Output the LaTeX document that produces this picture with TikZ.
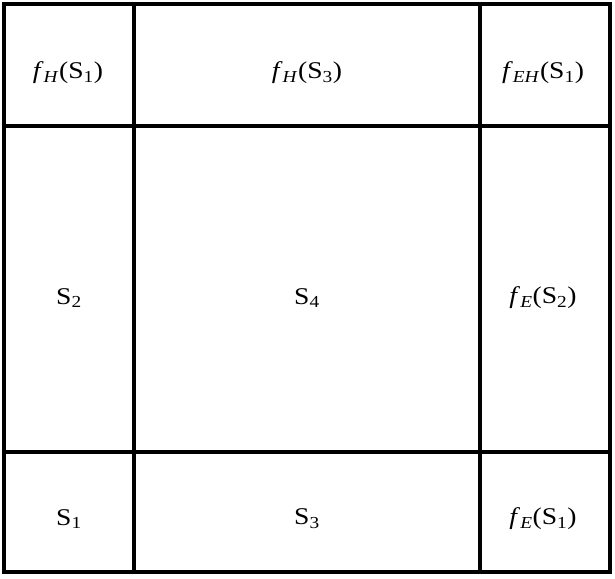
\documentclass[tikz,border=0pt]{standalone}
\usepackage{fontspec}
\setmainfont{Liberation Serif}
\newcommand{\sub}[1]{\textsubscript{#1}}
\newcommand{\wide}[1]{\scalebox{1.15}[1]{#1}}
\begin{document}
\begin{tikzpicture}[x=1pt,y=1pt,
  gridline/.style={line width=3.2pt, black},
  lbl/.style={font=\fontsize{24}{28}\selectfont, inner sep=0pt}]
\useasboundingbox (0,0) rectangle (615,578);
% grid lines (y from bottom)
\draw[gridline] (4,574) rectangle (610,6);
\draw[gridline] (134,574) -- (134,6);
\draw[gridline] (480,574) -- (480,6);
\draw[gridline] (4,452) -- (610,452);
\draw[gridline] (4,126) -- (610,126);
% labels
\node[lbl] (a) at (68,505) {\wide{\textit{f}\sub{\textit{H}}(S\sub{1})}};
\node[lbl] (b) at (307,505) {\wide{\textit{f}\sub{\textit{H}}(S\sub{3})}};
\node[lbl] (c) at (543,505) {\wide{\textit{f}\sub{\textit{EH}}(S\sub{1})}};
\node[lbl] (d) at (69,280) {\wide{S\sub{2}}};
\node[lbl] (e) at (307,280) {\wide{S\sub{4}}};
\node[lbl] (f) at (543,280) {\wide{\textit{f}\sub{\textit{E}}(S\sub{2})}};
\node[lbl] (g) at (69,59) {\wide{S\sub{1}}};
\node[lbl] (h) at (307,59) {\wide{S\sub{3}}};
\node[lbl] (i) at (543,59) {\wide{\textit{f}\sub{\textit{E}}(S\sub{1})}};
\end{tikzpicture}
\end{document}
